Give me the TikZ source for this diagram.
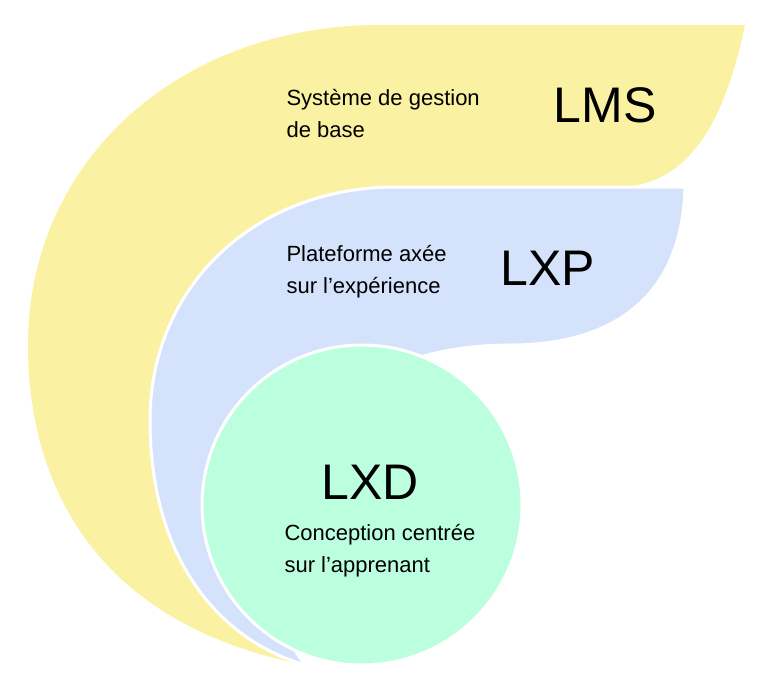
\documentclass[tikz,border=0pt]{standalone}
\usepackage{fontspec}
\setmainfont{Liberation Sans}
\definecolor{lmsyellow}{RGB}{251,241,163}
\definecolor{lxpblue}{RGB}{212,227,251}
\definecolor{lxdgreen}{RGB}{188,255,222}
\begin{document}
\begin{tikzpicture}[
    x=1pt, y=-1pt,
    band/.style={draw=white, line width=3pt, line join=round},
    small/.style={anchor=west, align=left, font=\fontsize{22}{32}\selectfont},
    big/.style={font=\fontsize{50}{56}\selectfont}
  ]
  \useasboundingbox (0,0) rectangle (768,696);

  % bande LMS
  \fill[lmsyellow] (305,665) .. controls (100,625) and (28,490) .. (28,345)
    .. controls (28,160) and (180,25) .. (380,25) -- (745,25)
    .. controls (725,120) and (690,185) .. (620,187) -- (390,187)
    .. controls (250,190) and (150,290) .. (150,420)
    .. controls (150,560) and (220,640) .. (305,665) -- cycle;

  % bande LXP
  \path[band, fill=lxpblue] (390,187) -- (685,187)
    .. controls (682,300) and (610,345) .. (510,345)
    .. controls (300,345) and (200,520) .. (305,665)
    .. controls (220,640) and (150,560) .. (150,420)
    .. controls (150,290) and (250,190) .. (390,187) -- cycle;

  % cercle LXD
  \node[band, fill=lxdgreen, circle, minimum size=320pt, inner sep=0pt] (lxd) at (362,505) {};

  % textes
  \node[small] (lmstxt) at (283,114) {Système de gestion\\de base};
  \node[big] (lms) at (605,105) {LMS};
  \node[small] (lxptxt) at (283,272) {Plateforme axée\\sur l’expérience};
  \node[big] (lxp) at (548,268) {LXP};
  \node[big] (lxdtitle) at (370,482) {LXD};
  \node[small] (lxdtxt) at (281,551) {Conception centrée\\sur l’apprenant};
\end{tikzpicture}
\end{document}
